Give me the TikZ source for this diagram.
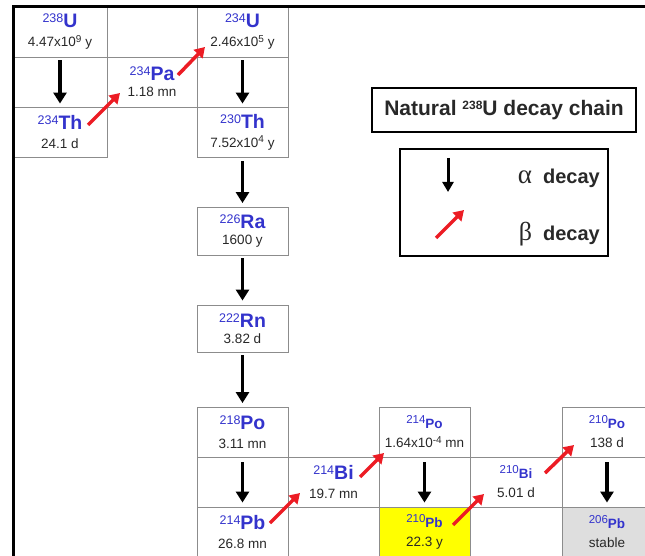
\documentclass[tikz,border=0pt]{standalone}
\usepackage{fontspec}
\setmainfont{Liberation Sans}
\newfontfamily\serifgreek{Liberation Serif}
\usetikzlibrary{arrows.meta}
\definecolor{nblue}{RGB}{51,51,204}
\definecolor{htext}{RGB}{40,40,40}
\definecolor{bgray}{RGB}{140,140,140}
\definecolor{redarr}{RGB}{236,28,36}
\definecolor{stablegray}{RGB}{222,222,222}
\definecolor{pbyellow}{RGB}{255,255,0}
\newcommand\nucA[2]{{\color{nblue}\raisebox{5pt}{\fontsize{12.5}{12}\selectfont #1}\fontsize{19.5}{14}\selectfont\bfseries #2}}
\newcommand\nucB[2]{{\color{nblue}\raisebox{5pt}{\fontsize{11.5}{11}\selectfont #1}\fontsize{13.5}{11}\selectfont\bfseries #2}}
\newcommand\hl[1]{{\color{htext}\fontsize{13.5}{13}\selectfont #1}}
\newcommand\sups[1]{\raisebox{4.5pt}{\fontsize{10}{9}\selectfont #1}}
\tikzset{
  cell/.style={draw=bgray, line width=0.9pt, inner sep=0pt, align=center,
    minimum height=50pt, font=\fontsize{13}{19}\selectfont},
  tight/.style={font=\fontsize{13}{16}\selectfont},
  wA/.style={minimum width=94pt},
  wB/.style={minimum width=90pt},
  wC/.style={minimum width=91pt},
  wD/.style={minimum width=92pt},
  alphaarrow/.style={line width=3.5pt, -{Triangle[length=11pt,width=13pt]}},
  betaarrow/.style={draw=redarr, line width=3.5pt, -{Triangle[length=10pt,width=12pt]}},
  framebox/.style={draw=black, line width=1.3pt, inner sep=0pt},
  legtext/.style={font=\fontsize{20}{20}\selectfont\bfseries, text=htext, inner sep=0pt, anchor=east}
}
\begin{document}
\begin{tikzpicture}[x=1pt,y=-1pt]
\useasboundingbox (0,0) rectangle (645,556);
\clip (0,0) rectangle (645,556);

% top group
\node[cell,wA] (gap1) at (60,82) {};
\node[cell,wC] (gap2) at (242.5,82) {};
\node[cell,wA] (U238) at (60,32) {\nucA{238}{U}\\\hl{4.47x10\sups{9} y}};
\node[cell,wA] (Th234) at (60,132) {\nucA{234}{Th}\\\hl{24.1 d}};
\node[cell,wB,tight] (Pa234) at (152,82) {\nucA{234}{Pa}\\\hl{1.18 mn}};
\node[cell,wC] (U234) at (242.5,32) {\nucA{234}{U}\\\hl{2.46x10\sups{5} y}};
\node[cell,wC] (Th230) at (242.5,132) {\nucA{230}{Th}\\\hl{7.52x10\sups{4} y}};
\node[cell,wC,tight,minimum height=48pt] (Ra226) at (242.5,231) {\nucA{226}{Ra}\\\hl{1600 y}};
\node[cell,wC,tight,minimum height=47pt] (Rn222) at (242.5,328.5) {\nucA{222}{Rn}\\\hl{3.82 d}};

% bottom group
\node[cell,wC] (gap3) at (242.5,482) {};
\node[cell,wC] (gap4) at (424.5,482) {};
\node[cell,wB] (gap5) at (607,482) {};
\node[cell,wC] (Po218) at (242.5,432) {\nucA{218}{Po}\\\hl{3.11 mn}};
\node[cell,wC] (Pb214) at (242.5,532) {\nucA{214}{Pb}\\\hl{26.8 mn}};
\node[cell,wC] (Bi214) at (333.5,482) {\nucA{214}{Bi}\\\hl{19.7 mn}};
\node[cell,wC] (Po214) at (424.5,432) {\nucB{214}{Po}\\\hl{1.64x10\sups{-4} mn}};
\node[cell,wC,fill=pbyellow] (Pb210) at (424.5,532) {\nucB{210}{Pb}\\\hl{22.3 y}};
\node[cell,wD] (Bi210) at (516,482) {\nucB{210}{Bi}\\\hl{5.01 d}};
\node[cell,wB] (Po210) at (607,432) {\nucB{210}{Po}\\\hl{138 d}};
\node[cell,wB,fill=stablegray] (Pb206) at (607,532) {\nucB{206}{Pb}\\\hl{stable}};

% alpha decays
\draw[alphaarrow,shorten <=3pt,shorten >=3pt] (U238) -- (Th234);
\draw[alphaarrow,shorten <=3pt,shorten >=3pt] (U234.south) -- (Th230.north);
\draw[alphaarrow,shorten <=4pt,shorten >=3.5pt] (Th230.south) -- (Ra226.north);
\draw[alphaarrow,shorten <=3pt,shorten >=4pt] (Ra226.south) -- (Rn222.north);
\draw[alphaarrow,shorten <=3pt,shorten >=3.5pt] (Rn222.south) -- (Po218.north);
\draw[alphaarrow,shorten <=5pt,shorten >=4pt] (Po218.south) -- (Pb214.north);
\draw[alphaarrow,shorten <=5pt,shorten >=4pt] (Po214.south) -- (Pb210.north);
\draw[alphaarrow,shorten <=5pt,shorten >=4pt] (Po210.south) -- (Pb206.north);

% beta decays
\draw[betaarrow] ([shift={(28,-7)}]Th234.center) -- ([shift={(-32,11)}]Pa234.center);
\draw[betaarrow] ([shift={(26,-7)}]Pa234.center) -- ([shift={(-37.5,15)}]U234.center);
\draw[betaarrow] ([shift={(27.5,-9)}]Pb214.center) -- ([shift={(-33.5,11)}]Bi214.center);
\draw[betaarrow] ([shift={(26.5,-5)}]Bi214.center) -- ([shift={(-40.5,21)}]Po214.center);
\draw[betaarrow] ([shift={(28.5,-7)}]Pb210.center) -- ([shift={(-32,12)}]Bi210.center);
\draw[betaarrow] ([shift={(29,-9)}]Bi210.center) -- ([shift={(-33,13)}]Po210.center);

% title and legend
\node[framebox,minimum width=264pt,minimum height=44pt,font=\fontsize{21}{21}\selectfont\bfseries,text=htext] (title) at (504,110)
  {Natural \raisebox{5.5pt}{\fontsize{12}{12}\selectfont 238}U decay chain};
\node[framebox,minimum width=208pt,minimum height=107pt] (legend) at (504,202.5) {};
\coordinate (la1) at (448,158);
\coordinate (la2) at (448,192);
\coordinate (lb1) at (436,238);
\coordinate (lb2) at (464,210);
\draw[line width=3pt, -{Triangle[length=10pt,width=11pt]}] (la1) -- (la2);
\draw[betaarrow] (lb1) -- (lb2);
\node[legtext] (alab) at (600,178) {{\serifgreek\fontsize{27}{24}\selectfont\mdseries α}\hspace{11pt}decay};
\node[legtext] (blab) at (600,234) {{\serifgreek\fontsize{26}{24}\selectfont\mdseries β}\hspace{11pt}decay};

% frame lines
\draw[line width=2.5pt] (13.3,6.7) -- (645,6.7);
\draw[line width=2.5pt] (13.3,5.5) -- (13.3,556);
\end{tikzpicture}
\end{document}
